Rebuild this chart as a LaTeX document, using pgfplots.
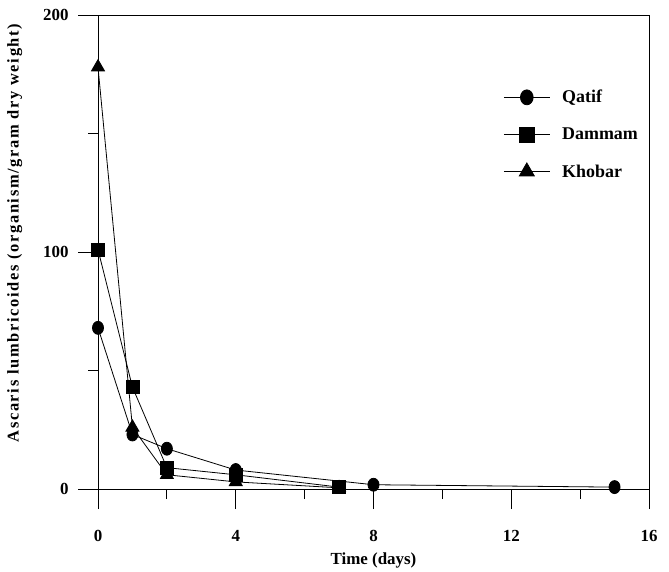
\documentclass[border=0pt]{standalone}
\usepackage{fontspec}
\setmainfont{Liberation Serif}
\usepackage{pgfplots}
\pgfplotsset{compat=1.18}
\begin{document}
\begin{tikzpicture}
\path[use as bounding box] (-98bp,-83bp) rectangle (571bp,489bp);
\begin{axis}[
  at={(0,0)}, anchor=south west,
  scale only axis, width=551bp, height=474bp,
  xmin=0, xmax=16, ymin=0, ymax=200,
  xtick={0,4,8,12,16}, minor xtick={2,6,10,14},
  ytick={0,100,200}, minor ytick={50,150},
  tick pos=left, tick align=outside,
  major tick length=20bp, minor tick length=10bp,
  every tick/.style={black, line width=0.8bp},
  axis line style={line width=0.8bp},
  clip=false,
  /pgf/number format/assume math mode=true,
  tick label style={font=\fontsize{17}{20}\selectfont\bfseries},
  xticklabel style={yshift=-18bp},
  yticklabel style={xshift=-6bp},
  xlabel={Time (days)},
  ylabel={\addfontfeature{LetterSpace=10}Ascaris lumbricoides (organism/gram dry weight)},
  every axis x label/.style={at={(axis description cs:0.5,-0.15)}, anchor=center, font=\fontsize{17}{20}\selectfont\bfseries},
  every axis y label/.style={at={(axis description cs:-0.151,0.54)}, rotate=90, anchor=center, font=\fontsize{16.5}{20}\selectfont\bfseries},
  legend style={draw=none, fill=none, at={(axis description cs:0.73,0.85)}, anchor=north west,
    font=\fontsize{18}{21}\selectfont\bfseries, row sep=19.5bp, cells={anchor=west}},
  legend image code/.code={\draw[mark repeat=2,mark phase=2,#1,every mark/.append style={scale=1.15}] plot coordinates {(0bp,0bp) (23bp,0bp) (46bp,0bp)}; \path (56bp,0bp);},
]
\addplot[black, line width=0.8bp, mark=*, mark size=6.5bp, mark options={xscale=0.85}] coordinates {
 (0,68) (1,23) (2,17) (4,8) (8,1.8) (15,0.8)};
\addlegendentry{Qatif}
\addplot[black, line width=0.8bp, mark=square*, mark size=6.5bp] coordinates {
 (0,101) (1,43) (2,9) (4,6) (7,0.8)};
\addlegendentry{Dammam}
\addplot[black, line width=0.8bp, mark=triangle*, mark size=7.5bp] coordinates {
 (0,178) (1,26) (2,6) (4,3) (7,0.5)};
\addlegendentry{Khobar}
\end{axis}
\end{tikzpicture}
\end{document}
